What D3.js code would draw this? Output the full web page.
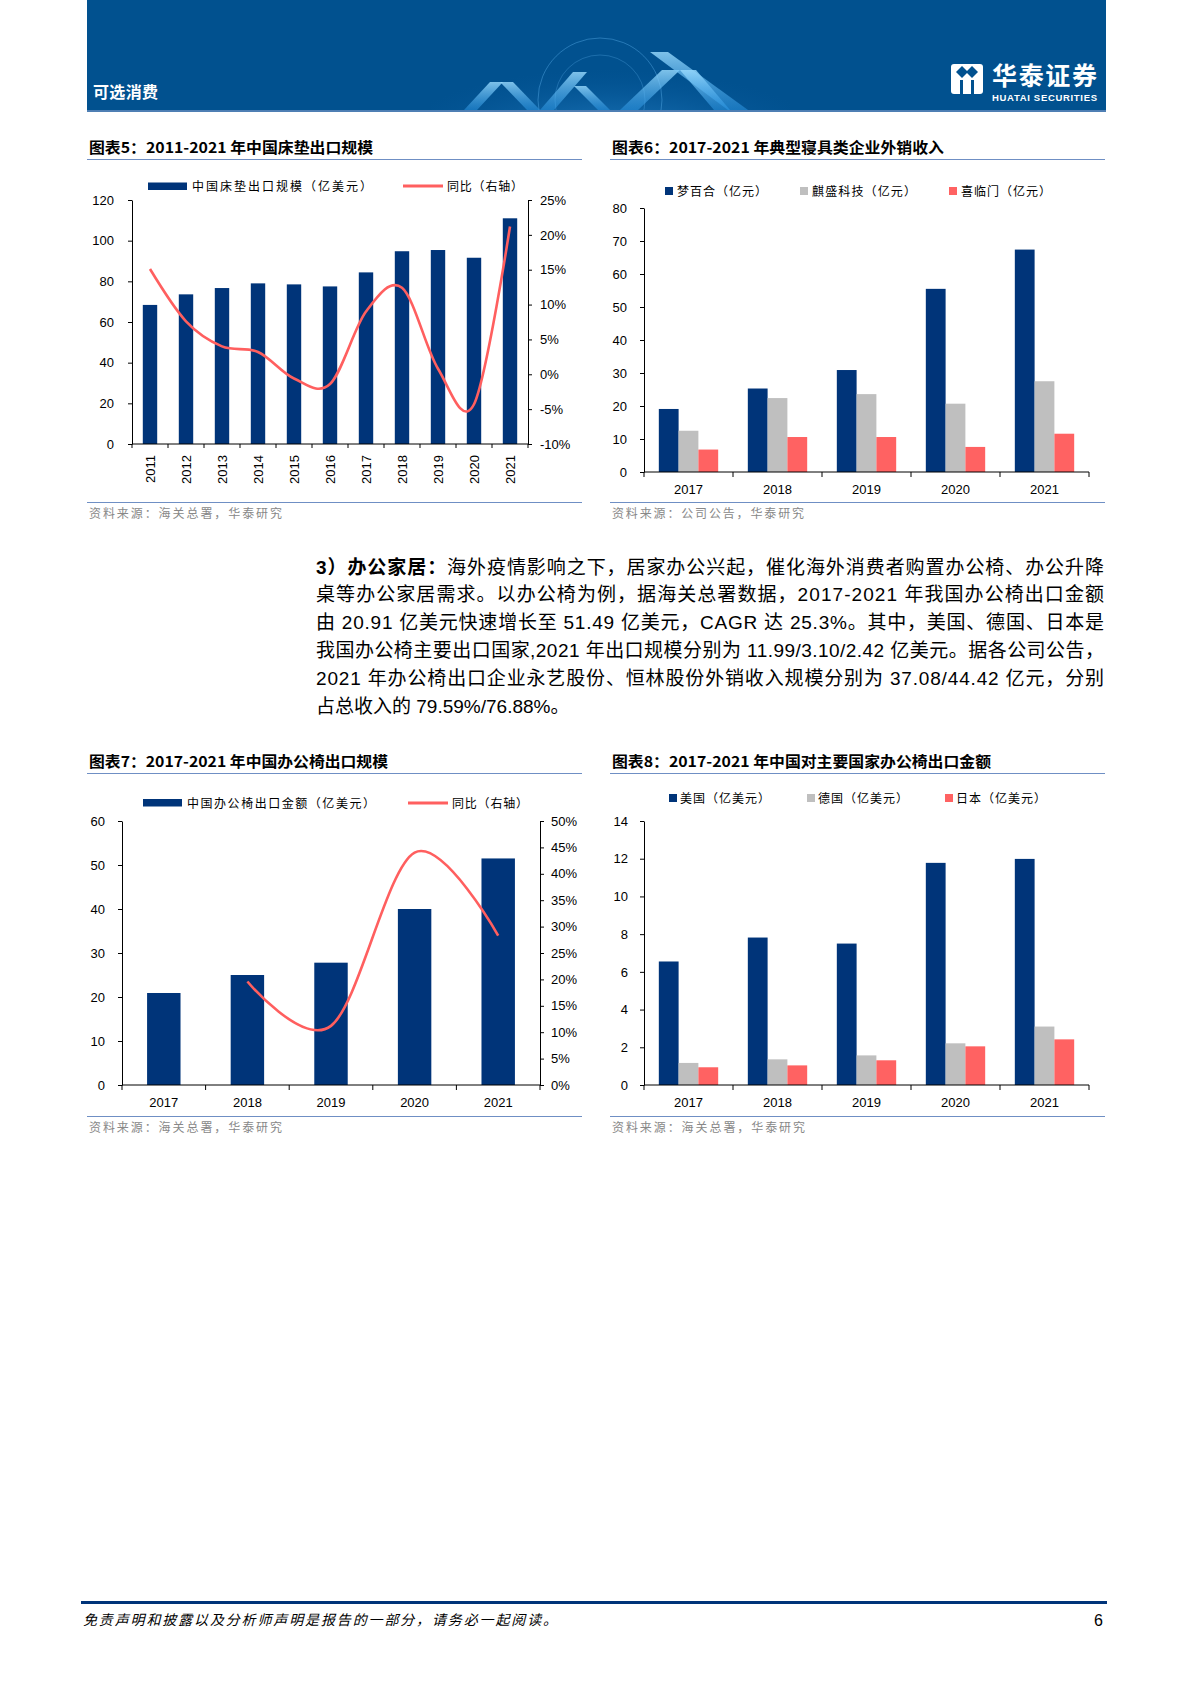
<!DOCTYPE html>
<html><head><meta charset="utf-8">
<script src="https://cdn.jsdelivr.net/npm/d3@7"></script>
<style>
html,body{margin:0;padding:0;background:#fff;}
svg{display:block;}
</style></head>
<body>
<script>
// ---------------- DATA ----------------
const mattressYears = ['2011','2012','2013','2014','2015','2016','2017','2018','2019','2020','2021'];
const mattressExport = [68.4,73.6,76.7,79.0,78.5,77.5,84.4,94.8,95.4,91.6,111.0];
const mattressYoY = [15.1,7.6,4.0,3.2,-0.6,-1.4,9.0,12.4,0.8,-4.3,21.2];
const mattressLeftTicks = [0,20,40,60,80,100,120];
const mattressRightTicks = [-10,-5,0,5,10,15,20,25];

const beddingYears = ['2017','2018','2019','2020','2021'];
const mengbaihe = [19.1,25.3,30.9,55.5,67.4];
const qisheng = [12.5,22.4,23.6,20.7,27.5];
const xilinmen = [6.8,10.6,10.6,7.6,11.6];
const beddingTicks = [0,10,20,30,40,50,60,70,80];

const chairYears = ['2017','2018','2019','2020','2021'];
const chairExport = [20.91,25.0,27.8,40.0,51.49];
const chairYoY = [null,19.6,11.2,44.0,28.3];
const chairLeftTicks = [0,10,20,30,40,50,60];
const chairRightTicks = [0,5,10,15,20,25,30,35,40,45,50];

const countryYears = ['2017','2018','2019','2020','2021'];
const usaExport = [6.55,7.82,7.50,11.78,11.99];
const germanyExport = [1.17,1.36,1.57,2.21,3.10];
const japanExport = [0.94,1.04,1.31,2.05,2.42];
const countryTicks = [0,2,4,6,8,10,12,14];

const paragraphLines = [
  ['3）办公家居：','海外疫情影响之下，居家办公兴起，催化海外消费者购置办公椅、办公升降'],
  ['','桌等办公家居需求。以办公椅为例，据海关总署数据，2017-2021 年我国办公椅出口金额'],
  ['','由 20.91 亿美元快速增长至 51.49 亿美元，CAGR 达 25.3%。其中，美国、德国、日本是'],
  ['','我国办公椅主要出口国家,2021 年出口规模分别为 11.99/3.10/2.42 亿美元。据各公司公告，'],
  ['','2021 年办公椅出口企业永艺股份、恒林股份外销收入规模分别为 37.08/44.42 亿元，分别'],
  ['','占总收入的 79.59%/76.88%。']
];

// ---------------- STYLE ----------------
const NAVY = '#003479', GRAY = '#BFBFBF', RED = '#FF6262', LINE = '#FF5F5F';
const FONT = '"Liberation Sans", Arial, "Noto Sans CJK SC", sans-serif';
const CJK = '"Noto Sans CJK SC", "Liberation Sans", sans-serif';

const svg = d3.select('body').append('svg').attr('width',1190).attr('height',1683);
svg.append('rect').attr('width',1190).attr('height',1683).attr('fill','#fff');

// ---------------- HEADER ----------------
const defs = svg.append('defs');
defs.append('clipPath').attr('id','hdrclip').append('rect').attr('x',87).attr('y',0).attr('width',1019).attr('height',110);
const glow = defs.append('radialGradient').attr('id','glow').attr('cx','50%').attr('cy','80%').attr('r','60%');
glow.append('stop').attr('offset','0%').attr('stop-color','#4FB6FF').attr('stop-opacity',0.5);
glow.append('stop').attr('offset','100%').attr('stop-color','#0a5fa8').attr('stop-opacity',0);
const stripe = defs.append('linearGradient').attr('id','stripe').attr('x1','0').attr('y1','0').attr('x2','0').attr('y2','1');
stripe.append('stop').attr('offset','0%').attr('stop-color','#9BDCFF').attr('stop-opacity',0.95);
stripe.append('stop').attr('offset','100%').attr('stop-color','#2E9BEA').attr('stop-opacity',0.55);

svg.append('rect').attr('x',87).attr('y',0).attr('width',1019).attr('height',111).attr('fill','#01518F');
const deco = svg.append('g').attr('clip-path','url(#hdrclip)');
deco.append('ellipse').attr('cx',610).attr('cy',105).attr('rx',180).attr('ry',60).attr('fill','url(#glow)');
deco.append('circle').attr('cx',600).attr('cy',100).attr('r',62).attr('fill','none').attr('stroke','#6EC4FF').attr('stroke-opacity',0.35);
deco.append('circle').attr('cx',600).attr('cy',100).attr('r',45).attr('fill','none').attr('stroke','#6EC4FF').attr('stroke-opacity',0.25);
const chev = [
  [[464,110],[490,82],[503,82],[477,110]],
  [[500,82],[513,82],[540,110],[527,110]],
  [[540,110],[573,72],[587,72],[554,110]],
  [[574,86],[586,86],[610,110],[598,110]],
  [[620,110],[662,70],[680,70],[638,110]],
  [[650,52],[668,52],[748,110],[728,110]],
  [[680,70],[696,70],[730,110],[714,110]]
];
deco.selectAll('polygon.chev').data(chev).enter().append('polygon').attr('class','chev')
  .attr('points',d=>d.map(p=>p.join(',')).join(' ')).attr('fill','url(#stripe)').attr('opacity',0.85);
svg.append('rect').attr('x',87).attr('y',110).attr('width',1019).attr('height',2).attr('fill','#4F7FB4');
svg.append('text').attr('x',93).attr('y',98).attr('fill','#fff').attr('font-family',CJK)
  .attr('font-weight','bold').attr('font-size',16).attr('textLength',65).text('可选消费');
// logo
const logo = svg.append('g');
logo.append('rect').attr('x',951).attr('y',64).attr('width',32).attr('height',30).attr('rx',3).attr('fill','#fff');
logo.append('polygon').attr('points','956,72 962,66 968,72 962,78').attr('fill','#01518F');
logo.append('polygon').attr('points','966,72 972,66 978,72 972,78').attr('fill','#01518F');
logo.append('rect').attr('x',960).attr('y',80).attr('width',3).attr('height',14).attr('fill','#01518F');
logo.append('rect').attr('x',971).attr('y',80).attr('width',3).attr('height',14).attr('fill','#01518F');
logo.append('text').attr('x',992).attr('y',85).attr('fill','#fff').attr('font-family',CJK)
  .attr('font-weight','bold').attr('font-size',25).attr('textLength',105).text('华泰证券');
logo.append('text').attr('x',992).attr('y',101).attr('fill','#fff').attr('font-family',FONT)
  .attr('font-weight','bold').attr('font-size',9.5).attr('textLength',105).text('HUATAI SECURITIES');

// ---------------- HELPERS ----------------
function frame(x0, x1, titleY, title, titleLen, srcY, src, srcLen){
  svg.append('text').attr('x',x0+2).attr('y',titleY+5).attr('font-family',CJK).attr('font-weight','bold')
    .attr('font-size',15).attr('fill','#000').attr('textLength',titleLen).attr('lengthAdjust','spacingAndGlyphs').text(title);
  svg.append('line').attr('x1',x0).attr('x2',x1).attr('y1',titleY+11.5).attr('y2',titleY+11.5)
    .attr('stroke','#6F8FC4').attr('stroke-width',1);
  svg.append('line').attr('x1',x0).attr('x2',x1).attr('y1',srcY-11.5).attr('y2',srcY-11.5)
    .attr('stroke','#6F8FC4').attr('stroke-width',1);
  svg.append('text').attr('x',x0+2).attr('y',srcY+4).attr('font-family',CJK).attr('font-size',12)
    .attr('fill','#888').attr('textLength',srcLen).text(src);
}
function styleAxis(g){
  g.selectAll('path,line').attr('stroke','#000').attr('stroke-width',1);
  g.selectAll('text').attr('font-family',FONT).attr('font-size',13).attr('fill','#000');
}
function legendText(x,y,t,len){
  svg.append('text').attr('x',x).attr('y',y+4.5).attr('font-family',CJK).attr('font-size',12)
    .attr('fill','#000').attr('textLength',len).text(t);
}
function bandTicks(xs, y, len){
  const ds = xs.domain();
  const pts = ds.map(d=>xs(d)).concat([xs(ds[ds.length-1])+xs.bandwidth()]);
  svg.append('g').selectAll('line').data(pts).enter().append('line')
    .attr('x1',d=>d).attr('x2',d=>d).attr('y1',y).attr('y2',y+len).attr('stroke','#000');
  svg.append('line').attr('x1',xs.range()[0]).attr('x2',xs.range()[1]).attr('y1',y).attr('y2',y).attr('stroke','#000');
}
const pctFmt = d=>d+'%';

// ---------------- CHART 5 ----------------
frame(87,582,148,'图表5：2011-2021 年中国床垫出口规模',284,514,'资料来源：海关总署，华泰研究',193);
{
  const x = d3.scaleBand().domain(mattressYears).range([132,528]).padding(0);
  const y = d3.scaleLinear().domain([0,120]).range([444,200]);
  const yr = d3.scaleLinear().domain([-10,25]).range([444,200]);
  const bw = x.bandwidth()*0.4;
  svg.append('g').selectAll('rect').data(mattressExport).enter().append('rect')
    .attr('x',(d,i)=>x(mattressYears[i])+(x.bandwidth()-bw)/2).attr('width',bw)
    .attr('y',d=>y(d)).attr('height',d=>y(0)-y(d)).attr('fill',NAVY);
  const gl = svg.append('g').attr('transform','translate(132,0)')
    .call(d3.axisLeft(y).tickValues(mattressLeftTicks).tickSize(4).tickSizeOuter(0).tickPadding(14));
  styleAxis(gl);
  const gr = svg.append('g').attr('transform','translate(528,0)')
    .call(d3.axisRight(yr).tickValues(mattressRightTicks).tickSize(4).tickSizeOuter(0).tickPadding(8).tickFormat(pctFmt));
  styleAxis(gr);
  bandTicks(x,444,4);
  svg.append('g').selectAll('text').data(mattressYears).enter().append('text')
    .attr('transform',d=>`translate(${x(d)+x.bandwidth()/2+4.5},455) rotate(-90)`)
    .attr('text-anchor','end').attr('font-family',FONT).attr('font-size',13).text(d=>d);
  const line = d3.line().x((d,i)=>x(mattressYears[i])+x.bandwidth()/2).y(d=>yr(d)).curve(d3.curveCardinal.tension(0));
  svg.append('path').datum(mattressYoY).attr('d',line).attr('fill','none').attr('stroke',LINE).attr('stroke-width',2.6);
  // legend
  svg.append('rect').attr('x',148).attr('y',182.5).attr('width',39).attr('height',7.5).attr('fill',NAVY);
  legendText(192,186,'中国床垫出口规模（亿美元）',180);
  svg.append('line').attr('x1',403).attr('x2',443).attr('y1',186).attr('y2',186).attr('stroke',LINE).attr('stroke-width',3);
  legendText(447,186,'同比（右轴）',76);
}

// ---------------- CHART 6 ----------------
frame(610,1105,148,'图表6：2017-2021 年典型寝具类企业外销收入',332,514,'资料来源：公司公告，华泰研究',192);
{
  const x = d3.scaleBand().domain(beddingYears).range([644,1089]).padding(0);
  const y = d3.scaleLinear().domain([0,80]).range([472,208]);
  const series = [mengbaihe,qisheng,xilinmen], colors=[NAVY,GRAY,RED];
  const gw = x.bandwidth()*0.667, bw = gw/3, off=(x.bandwidth()-gw)/2;
  series.forEach((s,k)=>{
    svg.append('g').selectAll('rect').data(s).enter().append('rect')
      .attr('x',(d,i)=>x(beddingYears[i])+off+k*bw).attr('width',bw)
      .attr('y',d=>y(d)).attr('height',d=>y(0)-y(d)).attr('fill',colors[k]);
  });
  const gl = svg.append('g').attr('transform','translate(644,0)')
    .call(d3.axisLeft(y).tickValues(beddingTicks).tickSize(4).tickSizeOuter(0).tickPadding(13));
  styleAxis(gl);
  bandTicks(x,472,5);
  svg.append('g').selectAll('text').data(beddingYears).enter().append('text')
    .attr('x',d=>x(d)+x.bandwidth()/2).attr('y',494).attr('text-anchor','middle')
    .attr('font-family',FONT).attr('font-size',13).text(d=>d);
  const leg = [['梦百合（亿元）',665,90],['麒盛科技（亿元）',800,104],['喜临门（亿元）',949,90]];
  leg.forEach((l,k)=>{
    svg.append('rect').attr('x',l[1]).attr('y',187).attr('width',8).attr('height',8).attr('fill',colors[k]);
    legendText(l[1]+12,191,l[0],l[2]);
  });
}

// ---------------- PARAGRAPH ----------------
paragraphLines.forEach((ln,i)=>{
  const t = svg.append('text').attr('x',316).attr('y',573.5+i*27.9).attr('font-family',FONT)
    .attr('font-size',19).attr('fill','#000');
  if(i<paragraphLines.length-1) t.attr('textLength',788).attr('lengthAdjust','spacing');
  if(ln[0]) t.append('tspan').attr('font-weight','bold').text(ln[0]);
  t.append('tspan').text(ln[1]);
});

// ---------------- CHART 7 ----------------
frame(87,582,762,'图表7：2017-2021 年中国办公椅出口规模',299,1128,'资料来源：海关总署，华泰研究',193);
{
  const x = d3.scaleBand().domain(chairYears).range([122,540]).padding(0);
  const y = d3.scaleLinear().domain([0,60]).range([1085,821]);
  const yr = d3.scaleLinear().domain([0,50]).range([1085,821]);
  const bw = x.bandwidth()*0.4;
  svg.append('g').selectAll('rect').data(chairExport).enter().append('rect')
    .attr('x',(d,i)=>x(chairYears[i])+(x.bandwidth()-bw)/2).attr('width',bw)
    .attr('y',d=>y(d)).attr('height',d=>y(0)-y(d)).attr('fill',NAVY);
  const gl = svg.append('g').attr('transform','translate(122,0)')
    .call(d3.axisLeft(y).tickValues(chairLeftTicks).tickSize(4).tickSizeOuter(0).tickPadding(13));
  styleAxis(gl);
  const gr = svg.append('g').attr('transform','translate(540,0)')
    .call(d3.axisRight(yr).tickValues(chairRightTicks).tickSize(4).tickSizeOuter(0).tickPadding(7).tickFormat(pctFmt));
  styleAxis(gr);
  bandTicks(x,1085,5);
  svg.append('g').selectAll('text').data(chairYears).enter().append('text')
    .attr('x',d=>x(d)+x.bandwidth()/2).attr('y',1107).attr('text-anchor','middle')
    .attr('font-family',FONT).attr('font-size',13).text(d=>d);
  const line = d3.line().defined(d=>d!==null).x((d,i)=>x(chairYears[i])+x.bandwidth()/2).y(d=>yr(d)).curve(d3.curveCardinal.tension(0));
  svg.append('path').datum(chairYoY).attr('d',line).attr('fill','none').attr('stroke',LINE).attr('stroke-width',2.6);
  svg.append('rect').attr('x',143).attr('y',799).attr('width',39).attr('height',7.5).attr('fill',NAVY);
  legendText(187,803,'中国办公椅出口金额（亿美元）',188);
  svg.append('line').attr('x1',408).attr('x2',448).attr('y1',803).attr('y2',803).attr('stroke',LINE).attr('stroke-width',3);
  legendText(452,803,'同比（右轴）',76);
}

// ---------------- CHART 8 ----------------
frame(610,1105,762,'图表8：2017-2021 年中国对主要国家办公椅出口金额',379,1128,'资料来源：海关总署，华泰研究',193);
{
  const x = d3.scaleBand().domain(countryYears).range([644,1089]).padding(0);
  const y = d3.scaleLinear().domain([0,14]).range([1085,821]);
  const series = [usaExport,germanyExport,japanExport], colors=[NAVY,GRAY,RED];
  const gw = x.bandwidth()*0.667, bw = gw/3, off=(x.bandwidth()-gw)/2;
  series.forEach((s,k)=>{
    svg.append('g').selectAll('rect').data(s).enter().append('rect')
      .attr('x',(d,i)=>x(countryYears[i])+off+k*bw).attr('width',bw)
      .attr('y',d=>y(d)).attr('height',d=>y(0)-y(d)).attr('fill',colors[k]);
  });
  const gl = svg.append('g').attr('transform','translate(644,0)')
    .call(d3.axisLeft(y).tickValues(countryTicks).tickSize(4).tickSizeOuter(0).tickPadding(12));
  styleAxis(gl);
  bandTicks(x,1085,5);
  svg.append('g').selectAll('text').data(countryYears).enter().append('text')
    .attr('x',d=>x(d)+x.bandwidth()/2).attr('y',1107).attr('text-anchor','middle')
    .attr('font-family',FONT).attr('font-size',13).text(d=>d);
  const leg = [['美国（亿美元）',669,90],['德国（亿美元）',807,90],['日本（亿美元）',945,90]];
  leg.forEach((l,k)=>{
    svg.append('rect').attr('x',l[1]).attr('y',794).attr('width',8).attr('height',8).attr('fill',colors[k]);
    legendText(l[1]+11,798,l[0],l[2]);
  });
}

// ---------------- FOOTER ----------------
svg.append('rect').attr('x',81).attr('y',1601).attr('width',1026).attr('height',3).attr('fill','#003479');
svg.append('text').attr('x',83).attr('y',1625).attr('font-family',CJK).attr('font-style','italic')
  .attr('font-size',14).attr('fill','#000').attr('textLength',474)
  .text('免责声明和披露以及分析师声明是报告的一部分，请务必一起阅读。');
svg.append('text').attr('x',1103).attr('y',1626).attr('text-anchor','end').attr('font-family',FONT)
  .attr('font-size',16).text('6');
</script>
</body></html>
